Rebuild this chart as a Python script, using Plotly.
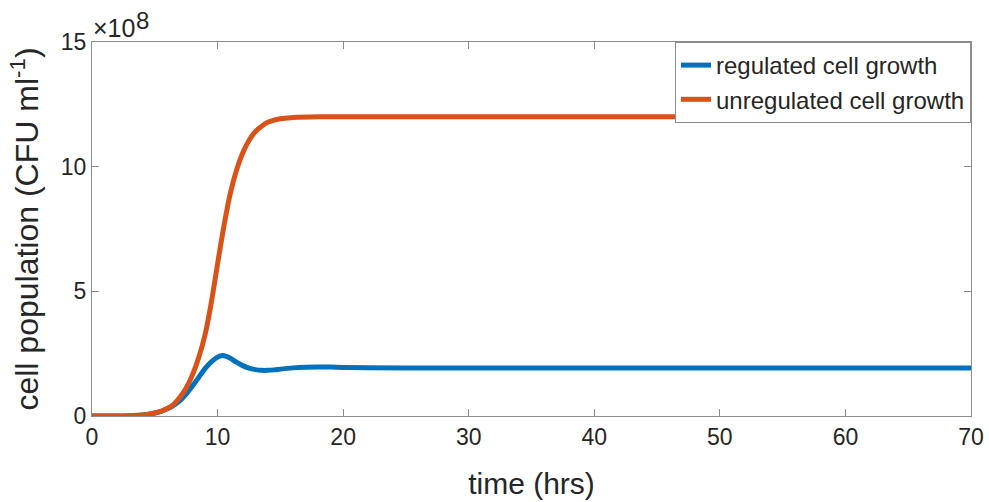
import plotly.graph_objects as go

# time (hrs)
t_unreg = [0, 2, 3, 4, 4.5, 5, 5.5, 6, 6.5, 7, 7.5, 8, 8.5, 9, 9.5, 10, 10.5, 11,
           11.5, 12, 12.5, 13, 13.5, 14, 15, 16, 18, 25, 40, 55, 70]
# unregulated cell growth (x 1e8 CFU/ml)
v_unreg = [0, 0.005, 0.015, 0.04, 0.07, 0.12, 0.19, 0.3, 0.47, 0.75, 1.12, 1.65,
           2.35, 3.25, 4.55, 6.1, 7.6, 8.9, 9.85, 10.55, 11.05, 11.4, 11.62, 11.78,
           11.92, 11.97, 12.0, 12.0, 12.0, 12.0, 12.0]

t_reg = [0, 2, 3, 4, 4.5, 5, 5.5, 6, 6.5, 7, 7.5, 8, 8.5, 9, 9.5, 10, 10.3, 10.7,
         11, 11.5, 12, 12.5, 13, 13.5, 14, 14.5, 15, 16, 17, 18, 19, 20, 22, 25,
         30, 45, 60, 70]
# regulated cell growth (x 1e8 CFU/ml)
v_reg = [0, 0.005, 0.015, 0.04, 0.07, 0.12, 0.19, 0.29, 0.43, 0.62, 0.88, 1.2,
         1.55, 1.9, 2.17, 2.36, 2.42, 2.39, 2.32, 2.16, 2.02, 1.92, 1.86, 1.83,
         1.83, 1.85, 1.88, 1.93, 1.96, 1.97, 1.965, 1.95, 1.94, 1.93, 1.93, 1.93,
         1.93, 1.93]

x_ticks = [0, 10, 20, 30, 40, 50, 60, 70]
y_ticks = [0, 5, 10, 15]

SCALE = 1e8
FONT = "Liberation Sans, Arial, sans-serif"
TXT = "#262626"
AX = "#8c8c8c"

fig = go.Figure()
fig.add_trace(go.Scatter(x=t_reg, y=[v * SCALE for v in v_reg], mode="lines",
                         name="regulated cell growth",
                         line=dict(color="#0072BD", width=5, shape="spline", smoothing=1)))
fig.add_trace(go.Scatter(x=t_unreg, y=[v * SCALE for v in v_unreg], mode="lines",
                         name="unregulated cell growth",
                         line=dict(color="#D95319", width=5, shape="spline", smoothing=1)))

fig.update_layout(
    width=989, height=502,
    margin=dict(l=92, r=18, t=42, b=86),
    paper_bgcolor="white", plot_bgcolor="white",
    font=dict(family=FONT, color=TXT, size=22),
    legend=dict(x=1, y=1, xanchor="right", yanchor="top",
                bordercolor=AX, borderwidth=1, bgcolor="white",
                font=dict(size=24, color=TXT), tracegroupgap=0,
                itemwidth=30),
    showlegend=True,
)
fig.update_xaxes(range=[0, 70], tickvals=x_ticks, ticktext=[str(v) for v in x_ticks],
                 ticks="inside", ticklen=7, tickcolor=AX, showline=True, linecolor=AX,
                 linewidth=1, mirror="ticks", showgrid=False, zeroline=False,
                 automargin=False,
                 tickfont=dict(size=23, color=TXT),
                 title=dict(text="time (hrs)", font=dict(size=30, color=TXT), standoff=24))
fig.update_yaxes(range=[0, 15 * SCALE], tickvals=[v * SCALE for v in y_ticks],
                 ticktext=[str(v) for v in y_ticks],
                 ticks="inside", ticklen=7, tickcolor=AX, showline=True, linecolor=AX,
                 linewidth=1, mirror="ticks", showgrid=False, zeroline=False,
                 automargin=False,
                 tickfont=dict(size=23, color=TXT),
                 title=dict(text="cell population (CFU ml<sup>-1</sup>)",
                            font=dict(size=32, color=TXT), standoff=12))
fig.add_annotation(text="\u00d710", xref="paper", yref="paper",
                   x=0, y=1, xanchor="left", yanchor="bottom", showarrow=False,
                   font=dict(size=25, color=TXT), xshift=-1, yshift=-2)
fig.add_annotation(text="8", xref="paper", yref="paper",
                   x=0, y=1, xanchor="left", yanchor="bottom", showarrow=False,
                   font=dict(size=24, color=TXT), xshift=42, yshift=6)

fig.write_html("out.html")
